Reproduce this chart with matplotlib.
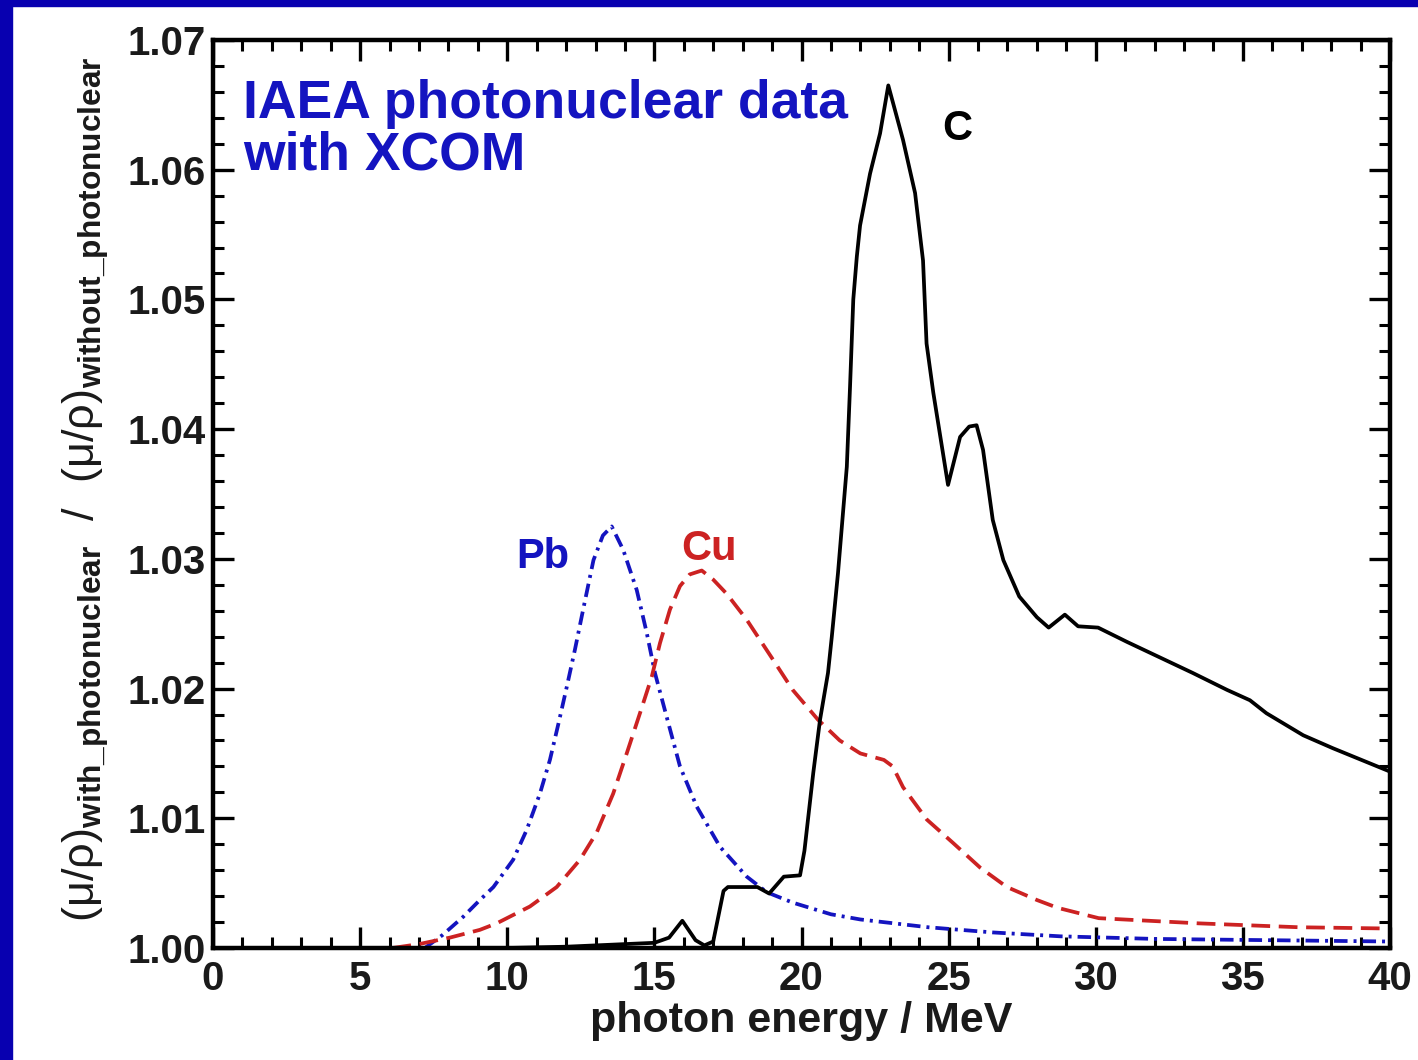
import matplotlib
matplotlib.use("Agg")
import matplotlib.pyplot as plt
from matplotlib.patches import Rectangle
from matplotlib.ticker import MultipleLocator, FormatStrFormatter

plt.rcParams['font.family'] = ['Liberation Sans', 'DejaVu Sans']
plt.rcParams['mathtext.fontset'] = 'custom'
plt.rcParams['mathtext.rm'] = 'Liberation Sans'
plt.rcParams['mathtext.bf'] = 'Liberation Sans:bold'
plt.rcParams['mathtext.it'] = 'Liberation Sans:italic'

# carbon (solid black)
c_energy = [0, 5, 10, 11, 12, 13, 14, 15.0, 15.5, 15.95, 16.4, 16.7, 17.0, 17.35, 17.5,
            18.5, 18.9, 19.4, 19.95, 20.1, 20.4, 20.63, 20.9, 21.03, 21.24, 21.54, 21.65,
            21.76, 21.88, 21.99, 22.33, 22.67, 22.95, 23.45, 23.86, 24.13, 24.25, 24.48,
            24.98, 25.39, 25.7, 25.95, 26.17, 26.5, 26.86, 27.4, 28.0, 28.4, 28.95, 29.4,
            30.08, 31.06, 32.18, 33.3, 34.46, 35.24, 35.8, 37.05, 38.06, 40.0]
c_ratio = [1.0, 1.0, 1.0, 1.00005, 1.0001, 1.0002, 1.0003, 1.0004, 1.0008, 1.0021, 1.0006,
           1.0002, 1.0005, 1.0044, 1.0047, 1.0047, 1.0042, 1.0055, 1.0056, 1.0075, 1.0135,
           1.0176, 1.0212, 1.0240, 1.0289, 1.0371, 1.0433, 1.0500, 1.0533, 1.0557, 1.0597,
           1.0628, 1.0665, 1.0623, 1.0582, 1.0530, 1.0466, 1.0428, 1.0357, 1.0394, 1.0402,
           1.0403, 1.0384, 1.0330, 1.0299, 1.0271, 1.0255, 1.0247, 1.0257, 1.0248, 1.0247,
           1.0236, 1.0224, 1.0212, 1.0199, 1.0191, 1.0181, 1.0164, 1.0154, 1.0136]

# lead (blue dash-dot)
pb_energy = [7.2, 7.8, 8.5, 9.07, 9.53, 10.2, 10.66, 11.11, 11.45, 11.74, 12.02, 12.3,
             12.58, 12.93, 13.25, 13.55, 13.94, 14.4, 14.74, 15.02, 15.42, 15.87, 16.44,
             17.23, 18.14, 18.82, 19.7, 21.0, 22.0, 24.3, 26.5, 28.8, 32, 36, 40]
pb_ratio = [1.0, 1.0010, 1.0024, 1.0037, 1.0047, 1.0068, 1.0091, 1.0119, 1.0145, 1.0173,
            1.0201, 1.0230, 1.0261, 1.0299, 1.0318, 1.0325, 1.0307, 1.0276, 1.0243, 1.0212,
            1.0178, 1.0140, 1.0109, 1.0078, 1.0055, 1.0043, 1.0035, 1.0026, 1.0022, 1.0016,
            1.0012, 1.0009, 1.0007, 1.0006, 1.0005]

# copper (red dashed)
cu_energy = [6.1, 7.0, 8.05, 9.07, 9.64, 10.77, 11.68, 12.47, 13.04, 13.6, 14.06, 14.51,
             14.91, 15.19, 15.53, 15.87, 16.2, 16.61, 17.0, 17.46, 18.14, 19.04, 19.7, 20.56,
             21.3, 22.0, 22.8, 23.1, 23.45, 24.26, 25.15, 26.07, 26.98, 28.0, 28.7, 30.1,
             33.5, 36.9, 40]
cu_ratio = [1.0, 1.0003, 1.0008, 1.0014, 1.0019, 1.0032, 1.0047, 1.0068, 1.0089, 1.0119,
            1.0150, 1.0181, 1.0209, 1.0235, 1.0261, 1.0279, 1.0288, 1.0291, 1.0284, 1.0273,
            1.0253, 1.0222, 1.0199, 1.0176, 1.0160, 1.0150, 1.0145, 1.0140, 1.0124, 1.0099,
            1.0081, 1.0062, 1.0047, 1.0037, 1.0031, 1.0023, 1.0019, 1.0016, 1.0015]

BLUE = '#1414c0'
RED = '#cc2222'

fig = plt.figure(figsize=(14.18, 10.60), dpi=100)
fig.patches.append(Rectangle((0, 0), 12 / 1418, 1, transform=fig.transFigure,
                             color='#0800b0', zorder=-10))
fig.patches.append(Rectangle((0, 1 - 6 / 1060), 1, 6 / 1060, transform=fig.transFigure,
                             color='#0800b0', zorder=-10))

ax = fig.add_axes([213 / 1418, 112 / 1060, 1177 / 1418, 908 / 1060])

ax.plot(pb_energy, pb_ratio, color=BLUE, lw=2.7, dashes=(3.6, 1.6, 0.8, 1.6))
ax.plot(cu_energy, cu_ratio, color=RED, lw=2.7, dashes=(5, 2.3))
ax.plot(c_energy, c_ratio, color='black', lw=2.7)

ax.set_xlim(0, 40)
ax.set_ylim(1.0, 1.07)
ax.xaxis.set_major_locator(MultipleLocator(5))
ax.xaxis.set_minor_locator(MultipleLocator(1))
ax.yaxis.set_major_locator(MultipleLocator(0.01))
ax.yaxis.set_minor_locator(MultipleLocator(0.002))
ax.yaxis.set_major_formatter(FormatStrFormatter('%.2f'))

ax.tick_params(which='both', direction='in', top=True, right=True)
ax.tick_params(which='major', length=15, width=2.4)
ax.tick_params(which='minor', length=8, width=2.2)
ax.tick_params(axis='x', which='major', pad=9)
ax.tick_params(axis='y', which='major', pad=5)
for lbl in ax.get_xticklabels() + ax.get_yticklabels():
    lbl.set_fontsize(29)
    lbl.set_fontweight('bold')
    lbl.set_color('#1a1a1a')
for sp in ax.spines.values():
    sp.set_linewidth(3.2)

ax.set_xlabel('photon energy / MeV', fontsize=31, fontweight='bold', color='#1a1a1a',
              labelpad=2)
ax.set_ylabel('(μ/ρ)$_{\\mathbf{with\\_photonuclear}}$  /  '
              '(μ/ρ)$_{\\mathbf{without\\_photonuclear}}$',
              fontsize=32.5, color='#1a1a1a')
ax.yaxis.set_label_coords(-0.087, 0.505)

ax.text(0.0255, 0.914, 'IAEA photonuclear data', transform=ax.transAxes,
        fontsize=38.5, fontweight='bold', color=BLUE, va='baseline')
ax.text(0.0255, 0.857, 'with XCOM', transform=ax.transAxes,
        fontsize=38.5, fontweight='bold', color=BLUE, va='baseline')
ax.text(25.28, 1.0623, 'C', fontsize=30, fontweight='bold', color='black',
        ha='center', va='baseline')
ax.text(11.21, 1.0293, 'Pb', fontsize=30, fontweight='bold', color=BLUE,
        ha='center', va='baseline')
ax.text(16.86, 1.0299, 'Cu', fontsize=30, fontweight='bold', color=RED,
        ha='center', va='baseline')

fig.savefig('out.png', dpi=100, facecolor='white')
